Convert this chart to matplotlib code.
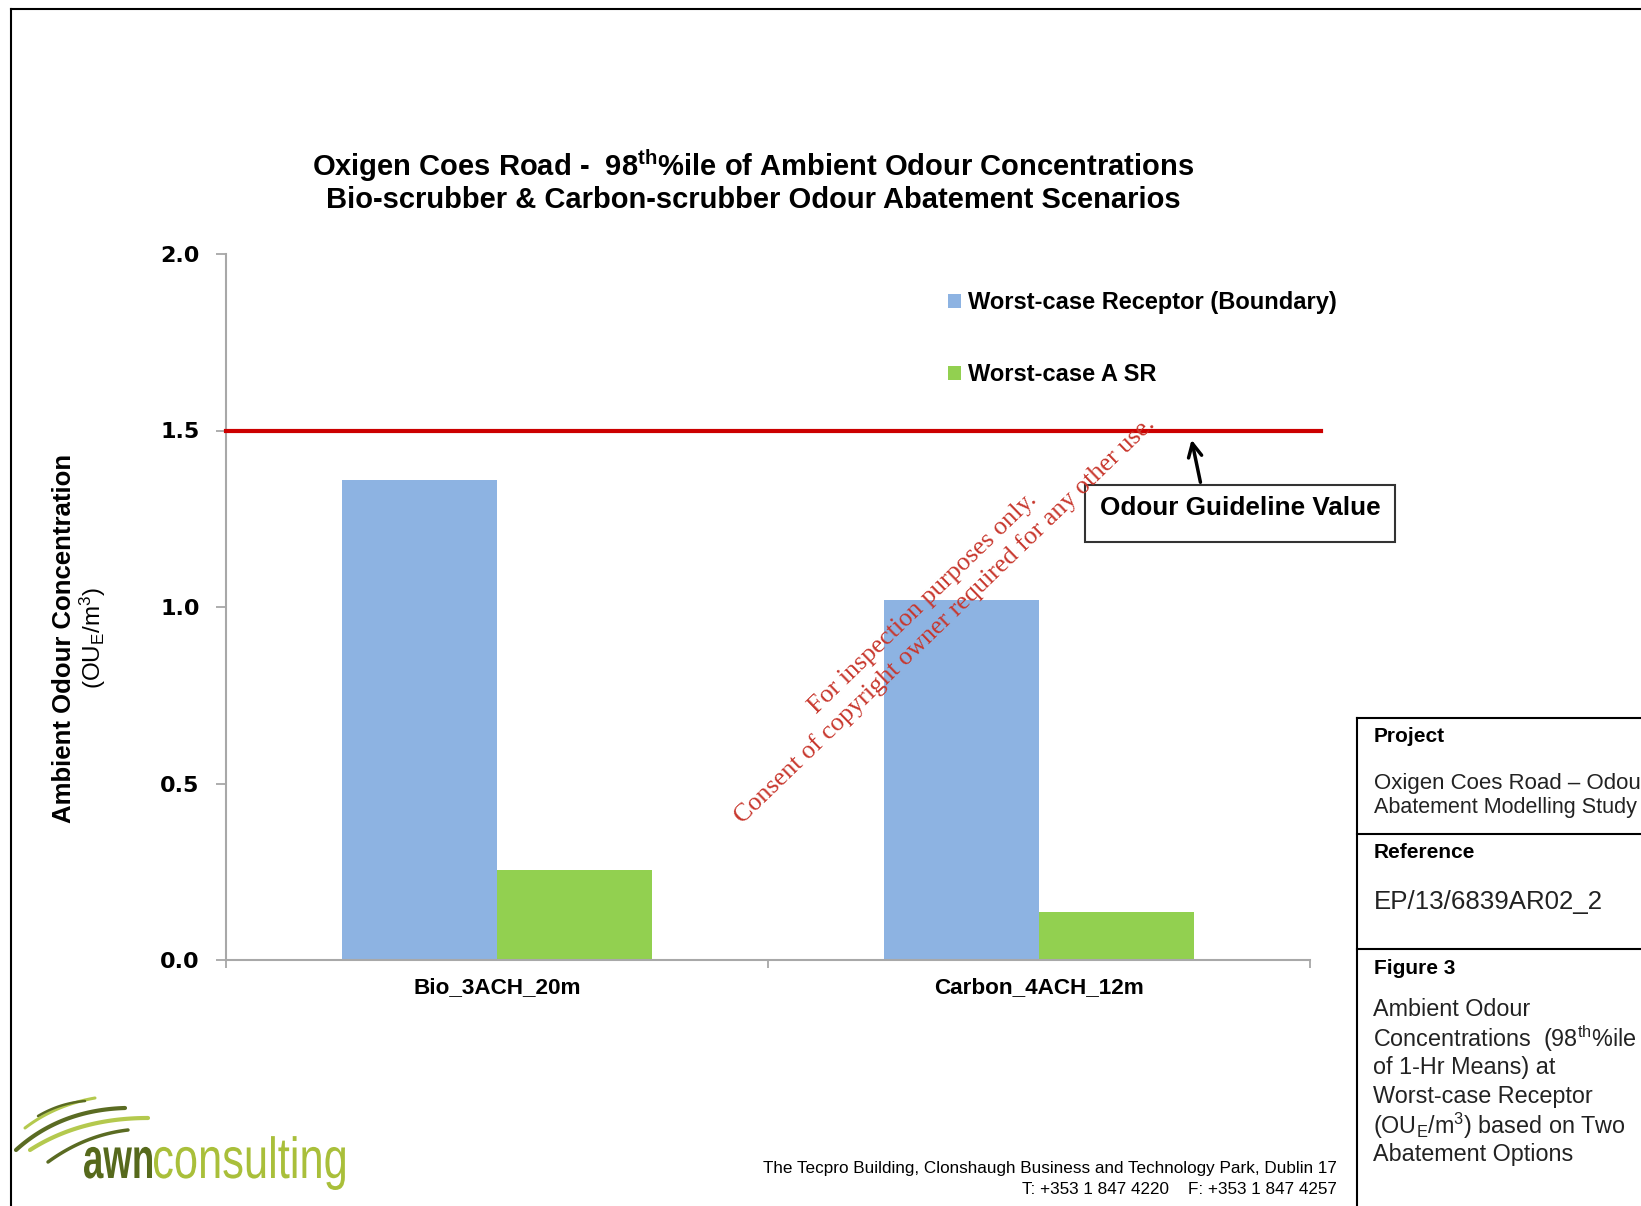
import numpy as np
import matplotlib
matplotlib.use('Agg')
import matplotlib.pyplot as plt
from matplotlib.patches import Rectangle, PathPatch
from matplotlib.textpath import TextPath
from matplotlib.font_manager import FontProperties
from matplotlib.transforms import Affine2D

# chart data
categories = ['Bio_3ACH_20m', 'Carbon_4ACH_12m']
series_names = ['Worst-case Receptor (Boundary)', 'Worst-case A SR']
receptor_boundary = [1.36, 1.02]
receptor_asr = [0.255, 0.135]
guideline = 1.5
yticks = [0.0, 0.5, 1.0, 1.5, 2.0]

W, H = 1641, 1206
plt.rcParams['font.family'] = ['Liberation Sans', 'DejaVu Sans']
plt.rcParams['mathtext.fontset'] = 'custom'
plt.rcParams['mathtext.rm'] = 'Liberation Sans'
plt.rcParams['mathtext.it'] = 'Liberation Sans:italic'
plt.rcParams['mathtext.bf'] = 'Liberation Sans:bold'

fig = plt.figure(figsize=(W / 100, H / 100), dpi=100)

def fx(x):
    return x / W

def fy(y):
    return 1 - y / H

## main chart
ax = fig.add_axes([fx(226), fy(960), fx(1310) - fx(226), fy(254) - fy(960)])
x = np.arange(len(categories))
bw = 0.286
ax.bar(x - bw / 2, receptor_boundary, bw, color='#8db3e2', label=series_names[0], zorder=2)
ax.bar(x + bw / 2, receptor_asr, bw, color='#92d050', label=series_names[1], zorder=2)
ax.plot([-0.5, 1.52], [guideline, guideline], color='#cc0000', lw=3, clip_on=False, zorder=5)
ax.set_xlim(-0.5, 1.5)
ax.set_ylim(0, 2)
ax.set_yticks(yticks)
ax.set_yticklabels(['%.1f' % v for v in yticks], family='DejaVu Sans', fontweight='bold', fontsize=16)
ax.set_xticks(x)
ax.set_xticklabels(categories, fontweight='bold', fontsize=16.2)
ax.set_xticks([-0.5, 0.5, 1.5], minor=True)
ax.tick_params(axis='x', which='major', length=0, pad=12)
ax.tick_params(axis='x', which='minor', length=6, color='#a0a0a0', width=1.2)
ax.tick_params(axis='y', length=7, color='#a0a0a0', width=1.2, pad=12)
for s in ['top', 'right']:
    ax.spines[s].set_visible(False)
for s in ['left', 'bottom']:
    ax.spines[s].set_color('#a8a8a8')
    ax.spines[s].set_linewidth(1.5)

ax.legend(loc='upper left', bbox_to_anchor=(fx(948), fy(291)), bbox_transform=fig.transFigure,
          frameon=False, prop={'weight': 'bold', 'size': 17}, handlelength=0.55, handleheight=0.55,
          handletextpad=0.3, labelspacing=2.08, borderpad=0, borderaxespad=0)

## overlay for page decorations, pixel coordinates
ov = fig.add_axes([0, 0, 1, 1], zorder=10)
ov.set_xlim(0, W)
ov.set_ylim(H, 0)
ov.axis('off')

# page frame
ov.plot([10.5, 10.5], [8.5, H], color='black', lw=1.5)
ov.plot([10.5, W], [8.5, 8.5], color='black', lw=1.5)

# title
ov.text(753, 166, r'Oxigen Coes Road -  98$^{\mathbf{th}}$%ile of Ambient Odour Concentrations',
        ha='center', va='center', fontweight='bold', fontsize=21)
ov.text(753, 200, 'Bio-scrubber & Carbon-scrubber Odour Abatement Scenarios',
        ha='center', va='center', fontweight='bold', fontsize=21)

# y label
ov.text(64, 638, 'Ambient Odour Concentration', rotation=90, ha='center', va='center',
        fontweight='bold', fontsize=18.5)
ov.text(93, 638, r'(OU$_{\rm E}$/m$^{3}$)', rotation=90, ha='center', va='center', fontsize=17.5)

# guideline annotation
ov.add_patch(Rectangle((1085, 485), 310, 57, fill=False, edgecolor='#333333', lw=1.5))
ov.text(1240, 508, 'Odour Guideline Value', ha='center', va='center', fontweight='bold', fontsize=18.8)
ov.annotate('', xy=(1191, 437), xytext=(1201, 485),
            arrowprops=dict(arrowstyle='->', lw=2.5, color='black', mutation_scale=24))

# watermark
ov.text(923, 603, 'For inspection purposes only.', rotation=44, rotation_mode='anchor',
        ha='center', va='center', family='Liberation Serif', color='#c8372d', fontsize=18.8)
ov.text(945, 620, 'Consent of copyright owner required for any other use.', rotation=44,
        rotation_mode='anchor', ha='center', va='center', family='Liberation Serif',
        color='#c8372d', fontsize=18.8)

# info block on the right
ov.plot([1357, 1357], [718, H], color='black', lw=1.5)
for yy in [718, 834, 949]:
    ov.plot([1357, W], [yy, yy], color='black', lw=1.5)
ov.text(1374, 737, 'Project', fontweight='bold', fontsize=15, va='center')
ov.text(1374, 783, 'Oxigen Coes Road \u2013 Odour', fontsize=16, va='center', color='#222222')
ov.text(1374, 808, 'Abatement Modelling Study', fontsize=15.5, va='center', color='#222222')
ov.text(1374, 853, 'Reference', fontweight='bold', fontsize=15, va='center')
ov.text(1374, 902, 'EP/13/6839AR02_2', fontsize=18.6, va='center', color='#222222')
ov.text(1374, 969, 'Figure 3', fontweight='bold', fontsize=15, va='center')
desc = ['Ambient Odour', r'Concentrations  (98$^{\rm th}$%ile', 'of 1-Hr Means) at',
        'Worst-case Receptor', r'(OU$_{\rm E}$/m$^{3}$) based on Two', 'Abatement Options']
for i, line in enumerate(desc):
    ov.text(1373, 1009 + i * 29.2, line, fontsize=16.8, va='center', color='#222222')

# footer address
ov.text(1337, 1169, 'The Tecpro Building, Clonshaugh Business and Technology Park, Dublin 17',
        ha='right', va='center', fontsize=12.3)
ov.text(1337, 1189, 'T: +353 1 847 4220    F: +353 1 847 4257',
        ha='right', va='center', fontsize=12.3)

# logo swooshes
def swoosh(p0, p1, p2, color, lw):
    t = np.linspace(0, 1, 40)
    xs = (1 - t) ** 2 * p0[0] + 2 * (1 - t) * t * p1[0] + t ** 2 * p2[0]
    ys = (1 - t) ** 2 * p0[1] + 2 * (1 - t) * t * p1[1] + t ** 2 * p2[1]
    ov.plot(xs, ys, color=color, lw=lw, solid_capstyle='round')

swoosh((16, 1150), (60, 1110), (125, 1108), '#5a6b22', 3.0)
swoosh((30, 1150), (80, 1118), (148, 1118), '#b4c94e', 3.0)
swoosh((48, 1162), (85, 1135), (128, 1130), '#5a6b22', 2.5)
swoosh((25, 1128), (55, 1105), (95, 1098), '#b4c94e', 2.2)
swoosh((38, 1116), (60, 1103), (85, 1101), '#5a6b22', 1.8)

# condensed logo lettering: squeeze a text path to the reference box
def squeezed(s, x0, base, width, xheight, color, weight):
    fp = FontProperties(family='Liberation Sans', weight=weight)
    tp = TextPath((0, 0), s, size=1, prop=fp)
    ext = tp.get_extents()
    tr = Affine2D().translate(-ext.x0, 0).scale(width / ext.width, -xheight / 0.519).translate(x0, base)
    ov.add_patch(PathPatch(tr.transform_path(tp), facecolor=color, edgecolor='none'))

squeezed('awn', 84, 1178, 68, 30, '#56691c', 'bold')
squeezed('consulting', 154, 1178, 191, 30, '#a9bf3a', 'normal')

fig.savefig('out.png', dpi=100)
